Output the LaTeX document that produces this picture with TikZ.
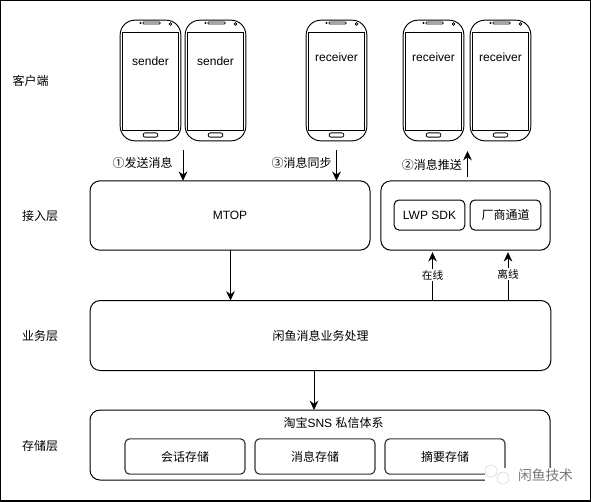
\documentclass[tikz,border=0pt]{standalone}
\usepackage{fontspec}
\setmainfont{Liberation Sans}
\newfontfamily\cjk{Noto Sans CJK SC}
\usetikzlibrary{arrows.meta,positioning,calc}
\definecolor{markgray}{RGB}{120,120,120}
\tikzset{
  layerbox/.style={
    rectangle,
    rounded corners=7.5pt,
    draw=black,
    line width=0.75pt,
    align=center,
    font=\fontsize{9}{11}\selectfont,
    fill=white,
    inner sep=0pt,
    outer sep=0pt
  },
  innerbox/.style={
    rectangle,
    rounded corners=3.5pt,
    draw=black,
    line width=0.75pt,
    align=center,
    font=\fontsize{9}{11}\selectfont,
    fill=white,
    inner sep=0pt,
    outer sep=0pt
  },
  storebox/.style={
    innerbox,
    draw=black!80,
    line width=0.85pt,
    minimum width=90pt,
    minimum height=26.5pt,
    font=\fontsize{9}{11}\selectfont\cjk
  },
  phonebody/.style={
    rectangle,
    rounded corners=11pt,
    draw=black,
    line width=0.7pt,
    minimum width=45.5pt,
    minimum height=90.5pt,
    fill=white,
    inner sep=0pt
  },
  phonescreen/.style={
    rectangle,
    draw=black,
    line width=0.7pt,
    minimum width=42.5pt,
    minimum height=73.5pt,
    inner sep=0pt
  },
  phonebutton/.style={
    rectangle,
    rounded corners=1.5pt,
    draw=black,
    line width=0.6pt,
    minimum width=11pt,
    minimum height=3.2pt,
    inner sep=0pt
  },
  phoneslit/.style={
    rectangle,
    rounded corners=0.6pt,
    draw=black,
    line width=0.5pt,
    minimum width=13pt,
    minimum height=1.6pt,
    inner sep=0pt
  },
  phonedot/.style={
    circle,
    draw=black,
    line width=0.5pt,
    minimum size=2pt,
    inner sep=0pt
  },
  tag/.style={font=\fontsize{9}{11}\selectfont\cjk, inner sep=0pt},
  smalltag/.style={font=\fontsize{8}{10}\selectfont\cjk, fill=white, inner sep=1pt},
  flow/.style={-{Stealth[length=7pt,width=6.5pt]}, line width=0.75pt, black}
}
\newcommand{\phonedraw}[4]{%
  \node[phonebody] (#1) at (#2,80.5) {};
  \node[phonescreen] (#1s) at (#2,81) {};
  \node[phonebutton] (#1b) at (#2,135) {};
  \node[phoneslit] (#1t) at ($(#2,23)+(1,0)$) {};
  \node[phonedot, minimum size=1pt] (#1d) at ($(#2,23)+(-10,0)$) {};
  \node[phonedot] (#1c) at ($(#2,24)+(20,0)$) {};
  \node[font=\fontsize{9}{11}\selectfont, inner sep=0pt] (#1l) at (#2,#3) {#4};
}
\begin{document}
\begin{tikzpicture}[x=0.75pt,y=-0.75pt]
\useasboundingbox (0,0) rectangle (591,501);
\draw[line width=1.1pt] (0,0) rectangle (591,501);
% phones
\phonedraw{sendera}{150.5}{61}{sender}
\phonedraw{senderb}{215.5}{61}{sender}
\phonedraw{recva}{336.5}{57}{receiver}
\phonedraw{recvb}{433.5}{57}{receiver}
\phonedraw{recvc}{500.5}{57}{receiver}
% layers
\node[tag] (client) at (30.5,81) {客户端};
\node[tag] (access) at (40,216) {接入层};
\node[tag] (biz) at (40,336) {业务层};
\node[tag] (store) at (40,446) {存储层};
\node[layerbox, minimum width=210pt, minimum height=52pt] (mtop) at (230,215.5) {MTOP};
\node[layerbox, minimum width=127pt, minimum height=52pt] (push) at (465.5,215.5) {};
\node[innerbox, minimum width=53pt, minimum height=22.5pt] (lwp) at (429.5,215) {LWP SDK};
\node[innerbox, minimum width=53pt, minimum height=22.5pt, right=4pt of lwp, font=\fontsize{9}{11}\selectfont\cjk] (vendor) {厂商通道};
\node[layerbox, minimum width=345.5pt, minimum height=52.5pt, font=\fontsize{9}{11}\selectfont\cjk] (core) at (320.5,335.5) {闲鱼消息业务处理};
\node[layerbox, minimum width=345pt, minimum height=52.5pt] (db) at (320,445) {};
\node[font=\fontsize{9}{11}\selectfont, inner sep=0pt] (dbtitle) at (333.5,423) {{\cjk 淘宝}SNS {\cjk 私信体系}};
\node[storebox] (chat) at (185,456.5) {会话存储};
\node[storebox, right=7.5pt of chat] (msg) {消息存储};
\node[storebox, right=7.5pt of msg] (digest) {摘要存储};
% connectors
\coordinate (sendin) at (183,150);
\coordinate (syncin) at (336.5,150);
\coordinate (pushout) at (467.5,151);
\coordinate (mtopout) at (230.5,250);
\coordinate (coreout) at (314,370);
\coordinate (online) at (432.5,300);
\coordinate (offline) at (508,300);
\draw[flow] (sendin) -- (sendin |- mtop.north);
\draw[flow] (syncin) -- (syncin |- mtop.north);
\draw[flow] ($(pushout |- push.north)+(0,-4)$) -- (pushout);
\draw[flow] (mtopout) -- (mtopout |- core.north);
\draw[flow] (coreout) -- (coreout |- db.north);
\draw[flow] (online) -- ($(online |- push.south)+(0,2)$);
\draw[flow] (offline) -- ($(offline |- push.south)+(0,2)$);
% labels on connectors
\node[tag, left=7.5pt of sendin, yshift=-9.75pt] (sendtag) {①发送消息};
\node[tag, left=3.5pt of syncin, yshift=-9.75pt] (synctag) {③消息同步};
\node[tag, left=4pt of pushout, yshift=-10.5pt] (pushtag) {②消息推送};
\node[smalltag] (ontag) at (432.5,275) {在线};
\node[smalltag] (offtag) at (508,274) {离线};
% watermark
\fill[white] (485,468) rectangle (576,490);
\node[circle, fill=white, draw=gray!40, line width=0.3pt, minimum size=9pt, inner sep=0pt] (wxa) at (491,471) {};
\node[circle, fill=white, draw=gray!40, line width=0.3pt, minimum size=9pt, inner sep=0pt] (wxb) at (503,478) {};
\node[tag, font=\fontsize{10.3}{12}\selectfont\cjk, text=markgray] (mark) at (545.5,475) {闲鱼技术};
\end{tikzpicture}
\end{document}
